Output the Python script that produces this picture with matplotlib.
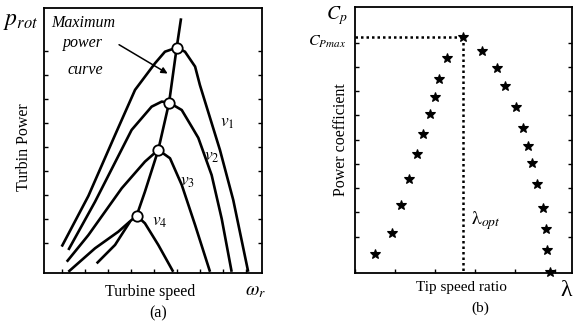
import matplotlib
matplotlib.use("Agg")
import matplotlib.pyplot as plt

plt.rcParams['font.family'] = ['Liberation Serif', 'DejaVu Serif']
plt.rcParams['mathtext.fontset'] = 'stix'

# (a) turbine power vs speed, arbitrary units
v1_x = [1.00, 2.16, 3.32, 4.19, 5.06, 5.49, 6.00, 6.36, 6.80, 7.01, 7.88, 8.46, 9.11]
v1_y = [0.85, 2.96, 5.50, 7.38, 8.49, 8.97, 9.14, 8.97, 8.35, 7.58, 4.88, 2.79, -0.20]
v2_x = [1.29, 2.45, 4.04, 4.91, 5.35, 5.67, 6.22, 6.65, 6.94, 7.52, 7.96, 8.39]
v2_y = [0.71, 2.72, 5.71, 6.68, 6.89, 6.85, 6.54, 5.85, 5.38, 3.83, 2.00, -0.20]
v3_x = [1.22, 2.16, 3.61, 4.62, 5.20, 5.71, 6.22, 6.80, 7.45]
v3_y = [0.22, 1.33, 3.28, 4.39, 4.88, 4.53, 3.42, 1.75, -0.20]
v4_x = [1.29, 2.45, 3.46, 4.04, 4.26, 4.62, 5.20, 5.85]
v4_y = [-0.20, 0.78, 1.47, 1.96, 2.14, 1.82, 0.92, -0.20]
v5_x = [2.52, 3.32, 3.97]
v5_y = [0.15, 0.92, 1.89]
mpp_x = [4.26, 4.62, 5.20, 5.67, 6.00, 6.19]
mpp_y = [2.14, 3.14, 4.88, 6.85, 9.14, 10.36]
peak_x = [4.26, 5.20, 5.67, 6.00]
peak_y = [2.14, 4.88, 6.85, 9.14]
v_labels = ['$v_1$', '$v_2$', '$v_3$', '$v_4$']
v_label_x = [8.19, 7.52, 6.45, 5.27]
v_label_y = [6.00, 4.58, 3.54, 1.88]

# (b) power coefficient vs tip speed ratio
lam = [0.50, 0.93, 1.15, 1.35, 1.54, 1.69, 1.88, 2.00, 2.10, 2.29, 2.71,
       3.18, 3.54, 3.75, 4.02, 4.21, 4.33, 4.43, 4.54, 4.69, 4.78, 4.81, 4.88]
cp = [0.28, 1.17, 2.32, 3.38, 4.41, 5.24, 6.06, 6.78, 7.51, 8.37, 9.25,
      8.66, 7.95, 7.22, 6.34, 5.50, 4.75, 4.03, 3.18, 2.20, 1.33, 0.45, -0.44]
lam_opt = 2.71
cp_max = 9.25

fig = plt.figure(figsize=(5.73, 3.29), dpi=100)
ax1 = fig.add_axes([44/573, 56/329, 218/573, 265/329])
ax2 = fig.add_axes([355/573, 56/329, 217/573, 266/329])

lw = 1.9
for xs, ys in [(v1_x, v1_y), (v2_x, v2_y), (v3_x, v3_y), (v4_x, v4_y), (v5_x, v5_y), (mpp_x, mpp_y)]:
    ax1.plot(xs, ys, color='black', lw=lw, solid_capstyle='butt', solid_joinstyle='round')
ax1.plot(peak_x, peak_y, 'o', ms=7.5, mfc='white', mec='black', mew=1.3, zorder=5)
for lab, x, y in zip(v_labels, v_label_x, v_label_y):
    ax1.text(x, y, lab, fontsize=12.5, ha='center', va='center')

ax1.text(1.93, 10.17, 'Maximum', fontsize=11.5, style='italic', ha='center', va='center')
ax1.text(1.93, 9.33, 'power', fontsize=11.5, style='italic', ha='center', va='center')
ax1.text(2.01, 8.21, 'curve', fontsize=11.5, style='italic', ha='center', va='center')
ax1.annotate('', xy=(5.71, 8.0), xytext=(3.39, 9.32),
             arrowprops=dict(arrowstyle='-|>', lw=1.1, color='black', mutation_scale=9))

ax1.set_xlim(0.23, 9.71)
ax1.set_ylim(-0.25, 10.79)
ax1.set_xticks(range(1, 10))
ax1.set_yticks(range(1, 10))
ax1.tick_params(direction='in', length=3, labelbottom=False, labelleft=False,
                right=True, width=1)

ax2.plot(lam, cp, '*', color='black', ms=7, mew=0.8, clip_on=False)
ax2.plot([0, lam_opt], [cp_max, cp_max], color='black', lw=1.8, ls=(0, (1, 1.2)))
ax2.plot([lam_opt, lam_opt], [cp_max, -0.5], color='black', lw=1.8, ls=(0, (1, 1.2)))
ax2.text(lam_opt + 0.2, 1.65, r'$\mathrm{\lambda}_{opt}$', fontsize=14, ha='left', va='center')

ax2.set_xlim(0, 5.425)
ax2.set_ylim(-0.495, 10.47)
ax2.set_xticks(range(0, 6))
ax2.set_yticks(range(1, 10))
ax2.tick_params(direction='in', length=3, labelbottom=False, labelleft=False,
                right=True, width=1)

for ax in (ax1, ax2):
    for s in ax.spines.values():
        s.set_linewidth(1.3)

W, H = 573, 329
def ft(px, py, s, **kw):
    fig.text(px / W, 1 - py / H, s, ha='center', va='center', **kw)

ft(21, 22, '$p_{rot}$', fontsize=17)
ft(24, 147, 'Turbin Power', fontsize=11.5, rotation=90)
ft(150, 292, 'Turbine speed', fontsize=11.5)
ft(255, 292, r'$\omega_r$', fontsize=14)
ft(158, 313, '(a)', fontsize=11.5)

ft(337, 16, '$C_p$', fontsize=14)
ft(327, 42, '$C_{Pmax}$', fontsize=11.5)
ft(341, 140, 'Power coefficient', fontsize=11.5, rotation=90)
ft(461, 288, 'Tip speed ratio', fontsize=11)
ft(566, 291, 'λ', fontsize=17)
ft(480, 308, '(b)', fontsize=11)

fig.savefig('out.png', dpi=100)
